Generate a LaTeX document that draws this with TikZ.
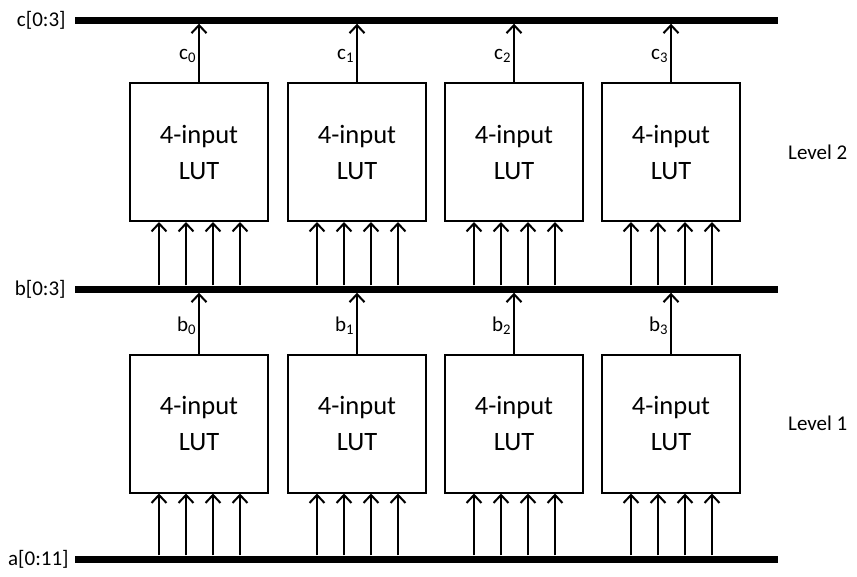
\documentclass[tikz,border=0pt]{standalone}
\usepackage{fontspec}
\setmainfont{Carlito}
\usepackage{tikz}
\usetikzlibrary{arrows.meta,positioning,calc}
\tikzset{
  lutbox/.style={
    draw=black,
    line width=2pt,
    minimum width=138pt,
    minimum height=138pt,
    inner sep=0pt,
    align=center,
    font=\fontsize{26.5}{36}\selectfont
  },
  busline/.style={
    fill=black,
    inner sep=0pt,
    minimum width=703pt,
    minimum height=7pt
  },
  buslabel/.style={
    font=\fontsize{21}{24}\selectfont,
    inner sep=0pt
  },
  wirelabel/.style={
    font=\fontsize{21}{24}\selectfont,
    inner sep=2pt
  },
  arrow/.style={
    -{Straight Barb[length=8pt,width=15pt]},
    line width=2pt
  }
}
\begin{document}
\begin{tikzpicture}[x=1pt,y=-1pt]
  \useasboundingbox (0,0) rectangle (857,576);
  % buses
  \node[busline] (cbus) at (426.5,20) {};
  \node[busline] (bbus) at (426.5,289) {};
  \node[busline] (abus) at (426.5,559) {};
  \node[buslabel, left=9pt of cbus] {c[0:3]};
  \node[buslabel, left=9pt of bbus] {b[0:3]};
  \node[buslabel, left=6pt of abus] {a[0:11]};
  % level labels
  \node[buslabel, anchor=west] (level2) at (788,152) {Level 2};
  \node[buslabel, anchor=west] (level1) at (788,423) {Level 1};
  % luts
  \foreach \i/\x in {0/199,1/357,2/514,3/671} {
    \node[lutbox] (lutb\i) at (\x,152) {4-input\\LUT};
    \node[lutbox] (luta\i) at (\x,423.5) {4-input\\LUT};
    \draw[arrow] (lutb\i.north) -- node[wirelabel, left, pos=0.45] {c\textsubscript{\i}} (lutb\i.north |- cbus.south);
    \draw[arrow] (luta\i.north) -- node[wirelabel, left, pos=0.45] {b\textsubscript{\i}} (luta\i.north |- bbus.south);
    \foreach \o in {-40,-13,14,41} {
      \coordinate (inb) at ([xshift=\o]lutb\i.south);
      \coordinate (ina) at ([xshift=\o]luta\i.south);
      \draw[arrow] (inb |- bbus.north) -- (inb);
      \draw[arrow] (ina |- abus.north) -- (ina);
    }
  }
\end{tikzpicture}
\end{document}
